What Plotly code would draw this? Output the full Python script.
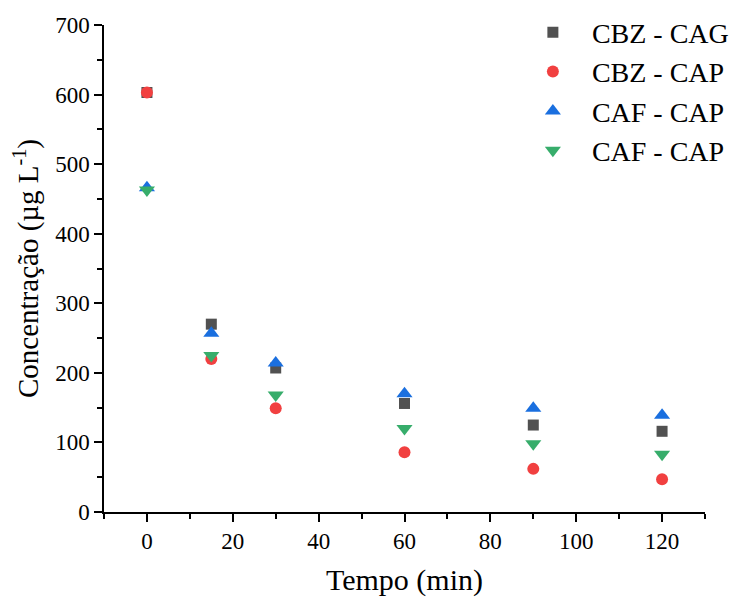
import plotly.graph_objects as go

tempo = [0, 15, 30, 60, 90, 120]
cbz_cag = [603, 270, 207, 156, 125, 116]
cbz_cap = [603, 220, 149, 86, 62, 47]
caf_cap_up = [466, 257, 214, 170, 149, 139]
caf_cap_down = [463, 225, 168, 120, 98, 83]

names = ["CBZ - CAG", "CBZ - CAP", "CAF - CAP", "CAF - CAP"]
series = [cbz_cag, cbz_cap, caf_cap_up, caf_cap_down]
symbols = ["square", "circle", "triangle-up", "triangle-down"]
colors = ["#515151", "#F14040", "#1A6FDF", "#37AD6B"]
sizes = [11, 12, 14, 14]

fig = go.Figure()
for n, s, sym, c, sz in zip(names, series, symbols, colors, sizes):
    fig.add_trace(go.Scatter(x=tempo, y=s, mode="markers", name=n,
                             marker=dict(symbol=sym, color=c, size=sz, line=dict(width=0))))

font = "Times New Roman"
fig.update_layout(
    width=739, height=597,
    margin=dict(l=104, r=34, t=25, b=85, autoexpand=False),
    paper_bgcolor="white", plot_bgcolor="white",
    font=dict(family=font, size=23, color="black"),
    showlegend=True,
    legend=dict(x=0.682, xanchor="left", y=1.036, yanchor="top",
                font=dict(size=28, family=font), bgcolor="rgba(0,0,0,0)",
                itemwidth=68, tracegroupgap=0),
    xaxis=dict(range=[-10, 130], tickvals=[0, 20, 40, 60, 80, 100, 120], automargin=False,
               showgrid=False, zeroline=False, showline=True, linecolor="black", linewidth=1.5,
               ticks="outside", ticklen=8, tickwidth=1.5, tickcolor="black",
               minor=dict(tickvals=[-10, 10, 30, 50, 70, 90, 110, 130], ticks="outside", ticklen=5, tickwidth=1.5, tickcolor="black"),
               tickfont=dict(size=23, family=font, color="black"),
               title=dict(text="Tempo (min)", font=dict(size=30, family=font, color="black"), standoff=25)),
    yaxis=dict(range=[0, 700], tickvals=[0, 100, 200, 300, 400, 500, 600, 700], automargin=False,
               showgrid=False, zeroline=False, showline=True, linecolor="black", linewidth=1.5,
               ticks="outside", ticklen=8, tickwidth=1.5, tickcolor="black",
               minor=dict(tickvals=[50, 150, 250, 350, 450, 550, 650], ticks="outside", ticklen=5, tickwidth=1.5, tickcolor="black"),
               tickfont=dict(size=23, family=font, color="black"),
               title=dict(text="Concentração (µg L<sup>-1</sup>)", font=dict(size=29, family=font, color="black"), standoff=8)),
)
fig.write_html("out.html")
